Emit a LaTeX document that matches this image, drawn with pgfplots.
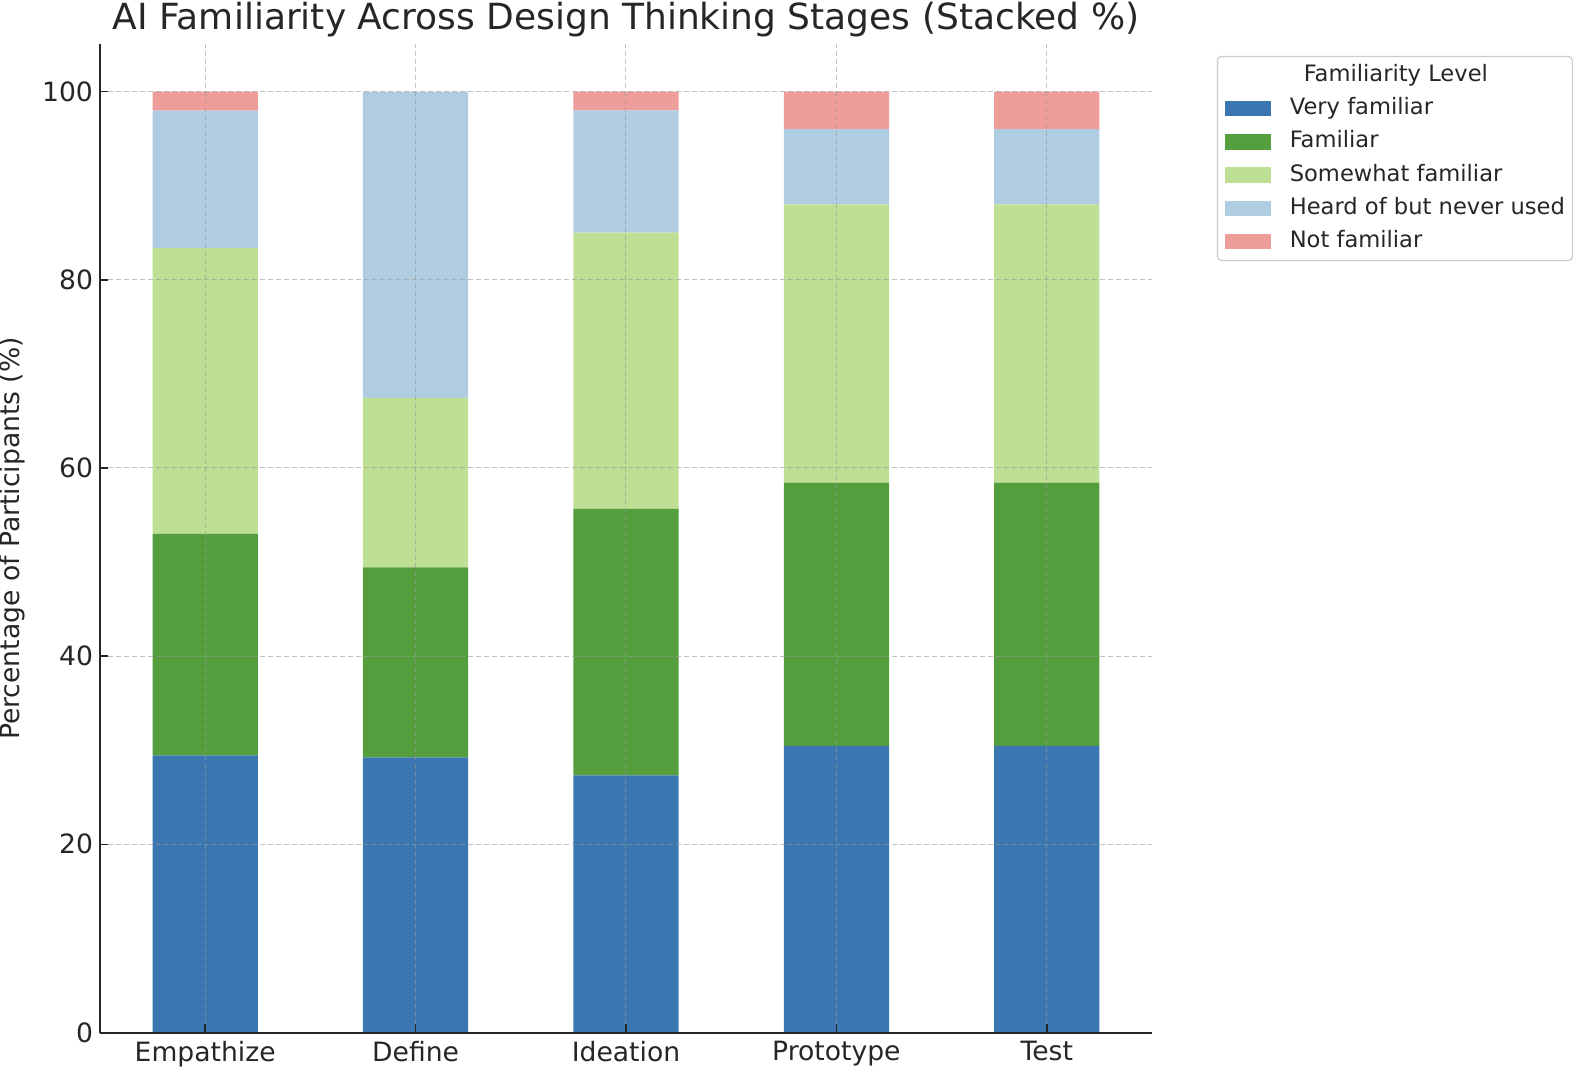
\documentclass[border=0pt]{standalone}
\usepackage{pgfplots}
\pgfplotsset{compat=1.18}
\usepackage{fontspec}
\setmainfont{DejaVu Sans}
\definecolor{cvery}{HTML}{3A76AF}
\definecolor{cfam}{HTML}{559E3E}
\definecolor{csome}{HTML}{BEDF94}
\definecolor{cheard}{HTML}{AFCCE0}
\definecolor{cnot}{HTML}{EF9D9A}
\definecolor{txt}{HTML}{262626}
\begin{document}
\begin{tikzpicture}
\useasboundingbox (-50pt,-19.25pt) rectangle (739pt,516.25pt);
\begin{axis}[
  at={(0pt,0pt)}, anchor=south west,
  scale only axis,
  width=526pt, height=494pt,
  ybar stacked, bar width=0.5,
  xmin=-0.5, xmax=4.5,
  ymin=0, ymax=105,
  xtick={0,1,2,3,4},
  xticklabels={Empathize,Define,Ideation,Prototype,Test},
  ytick={0,20,40,60,80,100},
  axis x line*=bottom, axis y line*=left,
  axis line style={-, line width=1pt, color=txt},
  tick align=inside,
  major tick length=4.2pt,
  tick style={line width=0.8pt, color=txt},
  /pgf/number format/assume math mode=true,
  ticklabel style={font=\fontsize{13.3}{15}\selectfont, color=txt},
  xticklabel style={yshift=-1pt},
  grid=major,
  major grid style={dash pattern=on 2.5pt off 1.5pt, line width=0.5pt, color=black!40, opacity=0.6},
  axis on top,
  title={AI Familiarity Across Design Thinking Stages (Stacked \%)},
  title style={font=\fontsize{18}{21}\selectfont, color=txt, at={(0.5,1)}, anchor=base, yshift=1.5pt},
  ylabel={Percentage of Participants (\%)},
  ylabel style={font=\fontsize{13.3}{15}\selectfont, color=txt, at={(axis description cs:0,0.5)}, anchor=base, yshift=40pt},
  legend cell align=left,
  legend style={
    at={(rel axis cs:1.0616,0.9885)}, anchor=north west,
    draw=black!20, line width=0.6pt, rounded corners=2pt,
    font=\fontsize{11.3}{13}\selectfont, text=txt,
    inner xsep=3.7pt, inner ysep=4pt,
    row sep=5.6pt, column sep=9.5pt,
    nodes={inner sep=0pt, text height=8.5pt, text depth=2.5pt},
  },
  legend image code/.code={\fill[#1, sharp corners] (0pt,-3.85pt) rectangle (23pt,3.85pt);},
]
\addlegendimage{empty legend}
\addlegendentry{\hspace{7pt}Familiarity Level}
\addplot[fill=cvery, draw=none] coordinates {(0,29.45) (1,29.24) (2,27.33) (3,30.46) (4,30.46)};
\addlegendentry{Very familiar}
\addplot[fill=cfam, draw=none] coordinates {(0,23.55) (1,20.18) (2,28.32) (3,27.98) (4,27.98)};
\addlegendentry{Familiar}
\addplot[fill=csome, draw=none] coordinates {(0,30.37) (1,18.03) (2,29.35) (3,29.56) (4,29.56)};
\addlegendentry{Somewhat familiar}
\addplot[fill=cheard, draw=none] coordinates {(0,14.59) (1,32.55) (2,13.0) (3,8.0) (4,8.0)};
\addlegendentry{Heard of but never used}
\addplot[fill=cnot, draw=none] coordinates {(0,2.04) (1,0) (2,2.0) (3,4.0) (4,4.0)};
\addlegendentry{Not familiar}
\end{axis}
\end{tikzpicture}
\end{document}
